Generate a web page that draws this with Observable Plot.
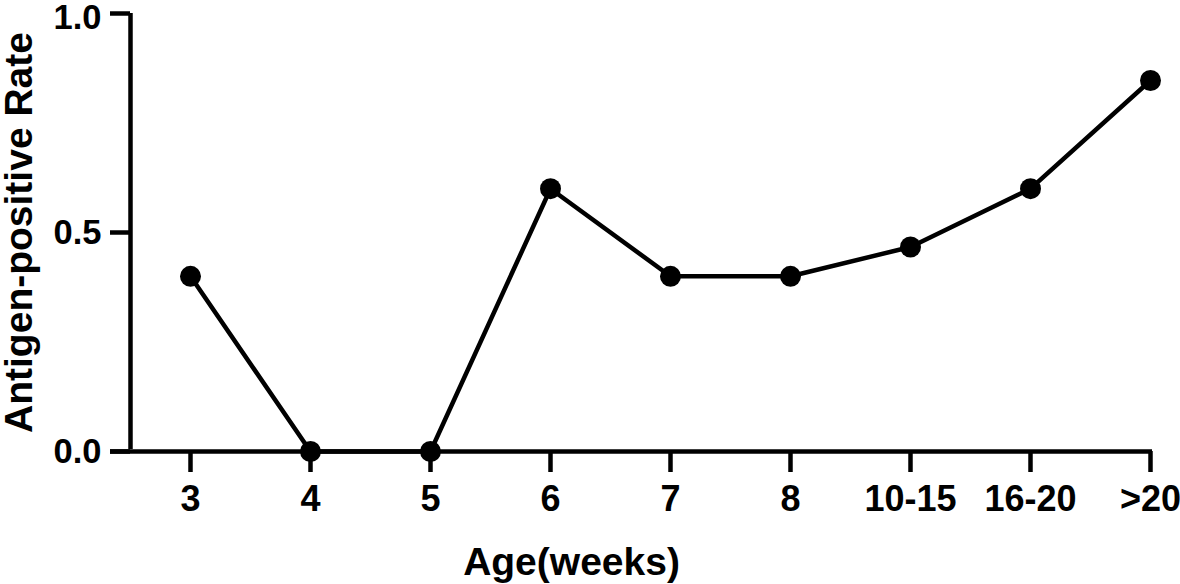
<!DOCTYPE html>
<html>
<head>
<meta charset="utf-8">
<script src="https://cdn.jsdelivr.net/npm/d3@7"></script>
<script src="https://cdn.jsdelivr.net/npm/@observablehq/plot@0.6"></script>
<style>
  html, body { margin: 0; padding: 0; background: #fff; }
  #chart svg { display: block; }
</style>
</head>
<body>
<div id="chart"></div>
<script>
const ages = ["3", "4", "5", "6", "7", "8", "10-15", "16-20", ">20"];
const rates = [0.4, 0, 0, 0.6, 0.4, 0.4, 0.467, 0.6, 0.847];
const yTicks = [0, 0.5, 1.0];
const xTitle = "Age(weeks)";
const yTitle = "Antigen-positive Rate";

const data = ages.map((a, i) => ({i, age: a, rate: rates[i]}));
const font = "'Liberation Sans', Arial, Helvetica, sans-serif";
const yAxisStyle = {
  tickSize: 20, tickPadding: 9,
  tickFormat: d3.format(".1f"),
  strokeWidth: 4.5, fontSize: 34.5, fontWeight: "bold",
  label: null
};

const chart = Plot.plot({
  width: 1180,
  height: 584,
  marginLeft: 130,
  marginRight: 30,
  marginTop: 13,
  marginBottom: 133,
  style: {fontFamily: font, background: "#fff", color: "#000", overflow: "visible"},
  x: {domain: [-0.5, ages.length - 1], axis: null},
  y: {domain: [0, 1], axis: null},
  marks: [
    // axis lines
    Plot.ruleX([-0.5], {y1: 0, y2: 1, stroke: "#000", strokeWidth: 4.5, insetTop: -2}),
    Plot.ruleY([0], {x1: -0.5, x2: ages.length - 1, stroke: "#000", strokeWidth: 4.5, insetLeft: -20, insetRight: -2}),
    // y ticks (top label nudged down to stay inside the picture)
    Plot.axisY({...yAxisStyle, ticks: yTicks.slice(0, -1)}),
    Plot.axisY({...yAxisStyle, ticks: yTicks.slice(-1), text: null}),
    Plot.axisY({...yAxisStyle, ticks: yTicks.slice(-1), tickSize: 0, tickPadding: 29, dy: 4}),
    // x ticks
    Plot.axisX({
      ticks: d3.range(ages.length), tickSize: 21, tickPadding: 13,
      tickFormat: i => ages[i],
      strokeWidth: 4.5, fontSize: 36, fontWeight: "bold",
      label: null
    }),
    // titles
    Plot.text([xTitle], {
      frameAnchor: "bottom", dx: -69, dy: 123,
      fontSize: 39, fontWeight: "bold", fill: "#000"
    }),
    Plot.text([yTitle], {
      frameAnchor: "left", rotate: -90, dx: -111, textAnchor: "middle",
      fontSize: 39, fontWeight: "bold", fill: "#000"
    }),
    // data
    Plot.line(data, {x: "i", y: "rate", stroke: "#000", strokeWidth: 4.5}),
    Plot.dot(data, {x: "i", y: "rate", r: 10.5, fill: "#000", stroke: "none"})
  ]
});
document.getElementById("chart").appendChild(chart);
</script>
</body>
</html>
